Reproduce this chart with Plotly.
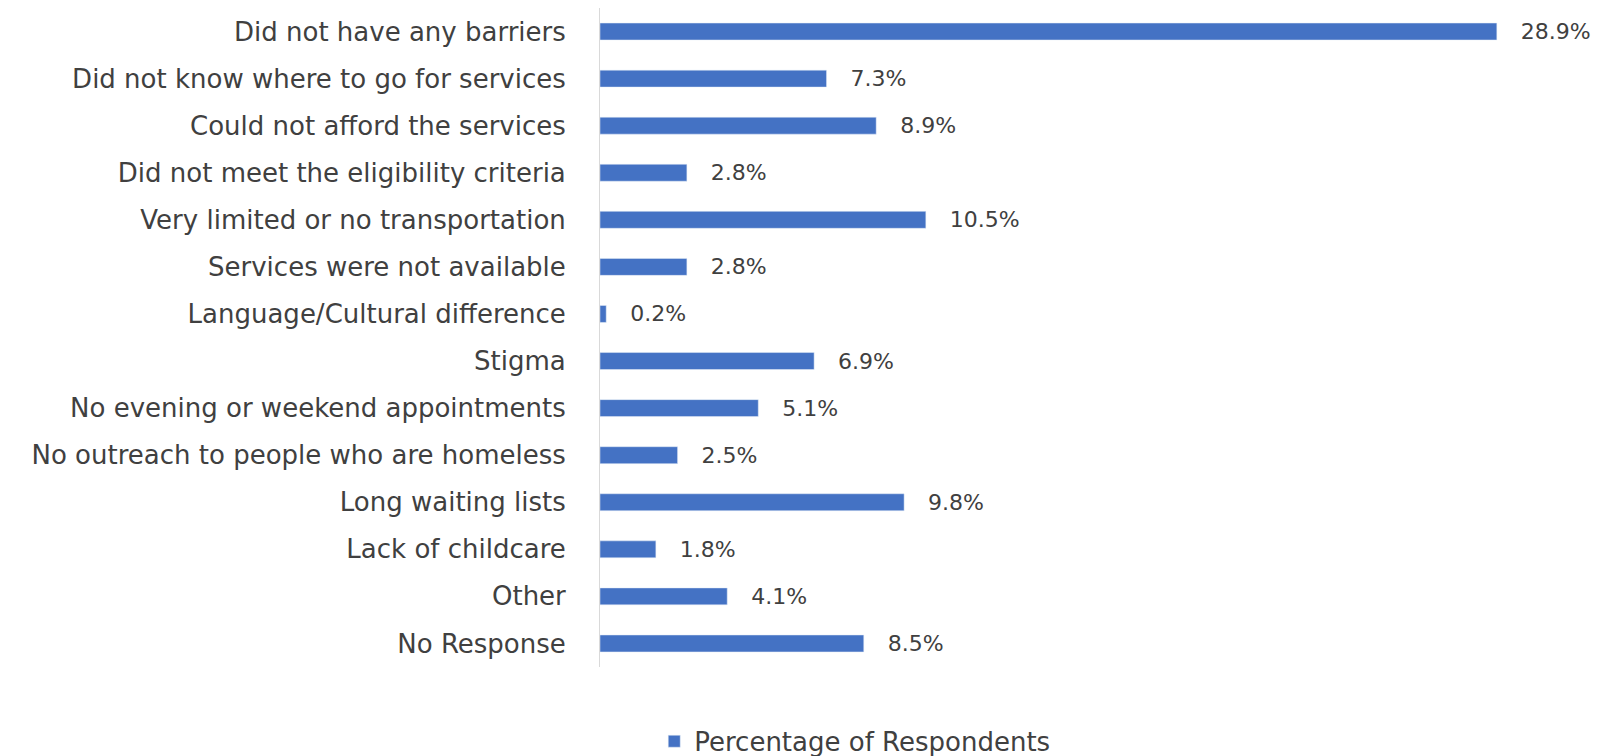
import plotly.graph_objects as go

categories = [
    "Did not have any barriers",
    "Did not know where to go for services",
    "Could not afford the services",
    "Did not meet the eligibility criteria",
    "Very limited or no transportation",
    "Services were not available",
    "Language/Cultural difference",
    "Stigma",
    "No evening or weekend appointments",
    "No outreach to people who are homeless",
    "Long waiting lists",
    "Lack of childcare",
    "Other",
    "No Response",
]
percent = [28.9, 7.3, 8.9, 2.8, 10.5, 2.8, 0.2, 6.9, 5.1, 2.5, 9.8, 1.8, 4.1, 8.5]
series_name = "Percentage of Respondents"

font_family = "DejaVu Sans"

fig = go.Figure(
    go.Bar(
        x=percent,
        y=categories,
        orientation="h",
        name=series_name,
        marker_color="#4472C4",
        text=[f"\u00a0\u00a0\u00a0{v:.1f}%" for v in percent],
        textposition="outside",
        constraintext="none",
        textfont=dict(family=font_family, size=22, color="#404040"),
        cliponaxis=False,
        showlegend=True,
    )
)

fig.update_layout(
    width=1619,
    height=756,
    margin=dict(l=592, r=20, t=0, b=97),
    plot_bgcolor="white",
    paper_bgcolor="white",
    bargap=0.64,
    font=dict(family=font_family, size=26, color="#404040"),
    legend=dict(
        orientation="h",
        x=0.523,
        xanchor="center",
        xref="container",
        y=0.03,
        yanchor="middle",
        yref="container",
        font=dict(size=26, color="#404040"),
    ),
)
fig.update_xaxes(range=[0, 32.45], visible=False)
fig.update_yaxes(
    autorange="reversed",
    showline=True,
    linecolor="#d9d9d9",
    linewidth=1,
    showgrid=False,
    ticks="",
    ticklabelstandoff=28,
)

fig.write_html("out.html")
